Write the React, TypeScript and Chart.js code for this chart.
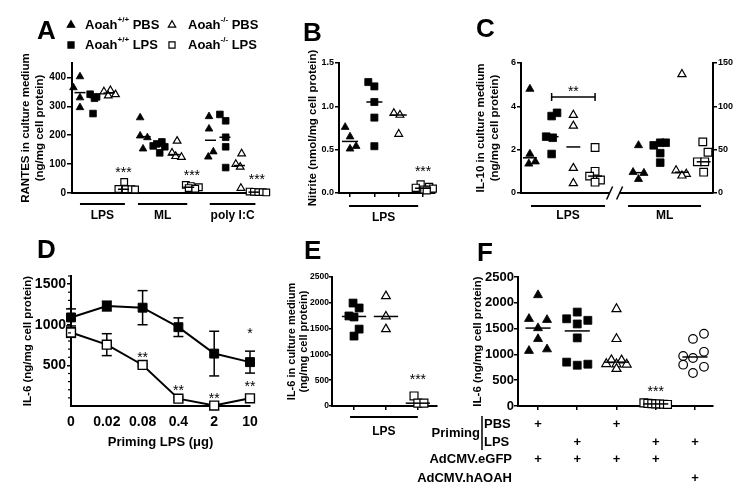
import React, { useEffect, useRef } from 'react';
import { Chart, registerables } from 'chart.js';

Chart.register(...registerables);

const FONT = '"Liberation Sans", Arial, Helvetica, sans-serif';
const INK = '#000000';
const PAPER = '#ffffff';
Chart.defaults.font.family = FONT;
Chart.defaults.color = INK;

// ======================= DATA =======================
// Panel A – RANTES in culture medium (ng/mg cell protein); one sub-array per stimulus
const A_GROUPS = ['LPS', 'ML', 'poly I:C'];
const A_WT_PBS = [[403, 365, 330, 296], [261, 198, 192, 153], [265, 222, 143, 125]];
const A_WT_LPS = [[342, 333, 328, 275], [177, 170, 163, 160, 139], [272, 250, 193, 160, 88]];
const A_KO_PBS = [[351, 355, 337, 341], [180, 139, 127, 124], [136, 100, 90, 17]];
const A_KO_LPS = [[38, 14, 13, 13, 12], [28, 24, 20, 17, 15], [5, 4, 3, 3, 2]];
const A_TICKS = [0, 100, 200, 300, 400];
const A_STAR_TEXT = ['***', '***', '***'];
const A_STAR_Y = [83, 73, 59];
const A_LEGEND = [
  { name: 'Aoah', sup: '+/+', tag: ' PBS' },
  { name: 'Aoah', sup: '-/-', tag: ' PBS' },
  { name: 'Aoah', sup: '+/+', tag: ' LPS' },
  { name: 'Aoah', sup: '-/-', tag: ' LPS' },
];

// Panel B – Nitrite (nmol/mg cell protein)
const B_GROUPS = ['LPS'];
const B_WT_PBS = [0.76, 0.65, 0.54, 0.51];
const B_WT_LPS = [1.28, 1.23, 1.05, 0.87, 0.54];
const B_KO_PBS = [0.92, 0.9, 0.68];
const B_KO_LPS = [0.1, 0.07, 0.06, 0.05, 0.04, 0.03];
const B_TICKS = [0, 0.5, 1, 1.5];
const B_STAR_TEXT = '***';
const B_STAR_Y = 0.29;

// Panel C – IL-10 (left axis: LPS, right axis: ML)
const C_GROUPS = ['LPS', 'ML'];
const C_LPS_WT_PBS = [4.8, 1.8, 1.45, 1.35];
const C_LPS_WT_LPS = [3.7, 3.55, 2.6, 2.55, 1.8];
const C_LPS_KO_PBS = [3.6, 3.1, 1.15, 0.45];
const C_LPS_KO_LPS = [2.1, 1.0, 0.78, 0.6, 0.5];
const C_ML_WT_PBS = [55, 24, 23, 16];
const C_ML_WT_LPS = [58, 58, 55, 46, 35];
const C_ML_KO_PBS = [137, 26, 22, 20];
const C_ML_KO_LPS = [59, 47, 36, 36, 24];
const C_TICKS_LEFT = [0, 2, 4, 6];
const C_TICKS_RIGHT = [0, 50, 100, 150];
const C_BRACKET_Y = 4.43;
const C_BRACKET_TEXT = '**';
const C_BRACKET_TEXT_Y = 4.85;

// Panel D – IL-6 vs priming LPS dose (mean ± SEM)
const D_PRIMING = ['0', '0.02', '0.08', '0.4', '2', '10'];
const D_WT = [1090, 1230, 1210, 970, 645, 540];
const D_WT_SEM = [105, 60, 210, 115, 275, 135];
const D_KO = [905, 755, 505, 90, 5, 95];
const D_KO_SEM = [60, 135, 15, 20, 10, 25];
const D_TICKS = [500, 1000, 1500];
const D_MINOR_TICKS = [100, 200, 300, 400, 600, 700, 800, 900, 1100, 1200, 1300, 1400, 1600];
const D_STARS = [
  { i: 5, y: 940, t: '*' },
  { i: 2, y: 640, t: '**' },
  { i: 3, y: 233, t: '**' },
  { i: 4, y: 135, t: '**' },
  { i: 5, y: 290, t: '**' },
];

// Panel E – IL-6 in culture medium
const E_GROUPS = ['LPS'];
const E_WT_LPS = [1995, 1900, 1745, 1725, 1490, 1355];
const E_KO_PBS = [2130, 1735, 1490];
const E_KO_LPS = [195, 55, 55];
const E_TICKS = [0, 500, 1000, 1500, 2000, 2500];
const E_STAR_TEXT = '***';
const E_STAR_Y = 580;

// Panel F – IL-6 after priming and adenoviral transduction
const F_PBS_EGFP_WT = [2150, 1690, 1670, 1510, 1300, 1100, 1070];
const F_LPS_EGFP_WT = [1820, 1690, 1660, 1590, 1320, 850, 790, 810];
const F_PBS_EGFP_KO = [1880, 1300, 890, 885, 815, 810, 805, 720];
const F_LPS_EGFP_KO = [60, 50, 45, 40, 40, 35, 30];
const F_LPS_AOAH_KO = [1400, 1300, 1050, 970, 930, 800, 760, 640];
const F_TICKS = [0, 500, 1000, 1500, 2000, 2500];
const F_STAR_TEXT = '***';
const F_STAR_Y = 350;
const F_PRIMING_LABEL = 'Priming';
const F_ROWS = [
  { label: 'PBS', marks: [1, 0, 1, 0, 0] },
  { label: 'LPS', marks: [0, 1, 0, 1, 1] },
  { label: 'AdCMV.eGFP', marks: [1, 1, 1, 1, 0] },
  { label: 'AdCMV.hAOAH', marks: [0, 0, 0, 0, 1] },
];

// ======================= LAYOUT (positions / styles) =======================
type Shape = 'triangle' | 'rect' | 'circle';
interface Mk { shape: Shape; filled: boolean }
const MK_WT_PBS: Mk = { shape: 'triangle', filled: true };
const MK_WT_LPS: Mk = { shape: 'rect', filled: true };
const MK_KO_PBS: Mk = { shape: 'triangle', filled: false };
const MK_KO_LPS: Mk = { shape: 'rect', filled: false };
const MK_AOAH: Mk = { shape: 'circle', filled: false };

const A_GROUP_START = [0, 4.5, 9];
const A_BAR_SPANS = [[0, 3.1], [4.0, 7.4], [8.95, 12.1]];
const A_STAR_X = [3.0, 7.72, 12.2];
const A_JIT_WT_PBS = [[0, -0.45, 0, 0], [-0.35, -0.35, 0.15, -0.15], [-0.1, -0.1, 0.2, -0.15]];
const A_JIT_WT_LPS = [[-0.3, 0.15, 0, -0.1], [0.15, -0.2, -0.45, 0.35, 0], [-0.35, 0.05, 0.05, 0.05, 0.05]];
const A_JIT_KO_PBS = [[-0.35, 0.1, -0.05, 0.45], [0.2, -0.15, 0.1, 0.5], [0.15, -0.25, 0.05, 0.1]];
const A_JIT_KO_LPS = [[0.05, -0.35, 0.15, 0.55, 0.8], [-0.2, 0.15, 0.7, 0.0, 0.45], [-0.3, 0, 0.3, 0.6, 0.85]];
const A_LEGEND_MARK = [[71, 25], [172, 25], [71, 45], [172, 45]];
const A_LEGEND_TEXT_X = [85, 188, 85, 188];

const B_JIT = [[-0.2, 0, 0.25, 0], [-0.25, 0, 0, 0, 0], [-0.2, 0.05, 0], [-0.1, 0.25, -0.3, 0.4, 0.05, 0.15]];
const B_BAR_SPANS = [[0.96, 3.8]];

const C_JIT = [
  [0, 0, 0.25, -0.05], [0.25, 0, -0.25, 0.05, 0], [0, 0, 0, 0], [0, 0, -0.25, 0.25, 0],
  [0, -0.25, 0.25, 0], [0.25, 0, -0.3, 0, 0], [0, -0.27, 0.2, 0], [-0.04, 0.2, -0.29, 0.05, 0],
];
const C_BAR_SPANS = [[0.05, 3.46], [4.52, 7.88]];
const C_BREAK_AT = 3.9;

const E_JIT = [[-0.03, 0.16, -0.16, 0, 0.16, 0], [0, 0, 0], [-0.12, 0, 0.19]];
const E_BAR_SPANS = [[0.875, 3.0]];

const F_JIT = [
  [0, -0.23, 0.23, 0, 0, 0.23, -0.23],
  [0, -0.27, 0.27, 0, 0, -0.27, 0, 0.27],
  [0, 0, -0.13, 0.13, -0.26, 0, 0.26, 0],
  [-0.3, -0.2, -0.1, 0, 0.1, 0.2, 0.3],
  [0.23, -0.05, 0.23, -0.3, -0.05, -0.3, 0.23, -0.05],
];
const F_ROW_DY = [18, 36, 53, 72];

const LETTERS = [
  { t: 'A', x: 37, y: 17 },
  { t: 'B', x: 303, y: 19 },
  { t: 'C', x: 476, y: 15 },
  { t: 'D', x: 37, y: 236 },
  { t: 'E', x: 304, y: 237 },
  { t: 'F', x: 477, y: 239 },
];

// ======================= HELPERS =======================
function median(a: number[]) {
  const s = [...a].sort((p, q) => p - q);
  const n = s.length;
  return n % 2 ? s[(n - 1) / 2] : (s[n / 2 - 1] + s[n / 2]) / 2;
}

function dots(values: number[], jit: number[], center: number, mk: Mk, r: number, yAxisID = 'y') {
  return {
    type: 'scatter', xAxisID: 'x', yAxisID, order: 2, clip: false, showLine: false,
    data: values.map((v, i) => ({ x: center + (jit[i] || 0), y: v })),
    pointStyle: mk.shape, pointRadius: r, pointHoverRadius: r,
    pointBackgroundColor: mk.filled ? INK : PAPER, pointBorderColor: INK, pointBorderWidth: mk.filled ? 0.8 : 1.2,
  };
}

function medLine(values: number[], center: number, hw: number, yAxisID = 'y') {
  const m = median(values);
  return {
    type: 'scatter', xAxisID: 'x', yAxisID, order: 1, clip: false, showLine: true,
    data: [{ x: center - hw, y: m }, { x: center + hw, y: m }],
    borderColor: INK, borderWidth: 1.5, pointRadius: 0, pointHoverRadius: 0,
  };
}

function yScale(s: any) {
  return {
    type: 'linear',
    position: s.position || 'left',
    min: s.min, max: s.max,
    afterBuildTicks: (sc: any) => { sc.ticks = s.ticks.map((v: number) => ({ value: v })); },
    afterFit: (sc: any) => { sc.width = s.width; },
    grid: { display: true, drawOnChartArea: false, drawTicks: true, tickLength: s.tickLength ?? 4, color: INK, lineWidth: 1.5 },
    border: { display: true, color: INK, width: 2 },
    ticks: {
      autoSkip: false, color: INK, padding: s.pad ?? 1,
      font: { family: FONT, size: s.size, weight: 'bold' },
      callback: (v: number) => (s.decimals ? Number(v).toFixed(s.decimals) : String(v)),
    },
    title: s.title
      ? {
          display: true, text: s.title, color: INK,
          font: { family: FONT, size: s.titleSize || 11.5, weight: 'bold', lineHeight: s.titleLH || 1.2 },
          padding: { top: s.titlePad || 0, bottom: 0 },
        }
      : { display: false },
  };
}

function xScale(s: any) {
  const tl = s.tickLength || 0;
  return {
    type: 'linear', position: 'bottom', min: s.min, max: s.max,
    afterBuildTicks: (sc: any) => { sc.ticks = s.ticks.map((v: number) => ({ value: v })); },
    afterFit: (sc: any) => { sc.height = s.height; },
    grid: { display: tl > 0, drawOnChartArea: false, drawTicks: tl > 0, tickLength: tl, color: INK, lineWidth: 1.5 },
    border: { display: true, color: INK, width: 2 },
    ticks: {
      display: !!s.labels, autoSkip: false, maxRotation: 0, minRotation: 0, color: INK,
      padding: s.labelPad || 0,
      font: { family: FONT, size: s.labelSize || 12, weight: 'bold' },
      callback: (v: number) => (s.labels ? s.labels[Math.round(v)] : ''),
    },
    title: s.title
      ? {
          display: true, text: s.title, color: INK,
          font: { family: FONT, size: s.titleSize || 13, weight: 'bold', lineHeight: 1.2 },
          padding: { top: 0, bottom: s.titlePad || 0 },
        }
      : { display: false },
  };
}

function config(datasets: any[], scales: any, padding: any, plugin: any) {
  return {
    type: 'scatter',
    data: { datasets },
    options: {
      responsive: false, maintainAspectRatio: false, animation: false, events: [],
      layout: { padding },
      plugins: { legend: { display: false }, tooltip: { enabled: false }, title: { display: false } },
      scales,
    },
    plugins: [plugin],
  };
}

function put(ctx: CanvasRenderingContext2D, s: string, x: number, y: number, size: number, align: CanvasTextAlign = 'center') {
  ctx.save();
  ctx.font = `bold ${size}px ${FONT}`;
  ctx.fillStyle = INK;
  ctx.textAlign = align;
  ctx.textBaseline = 'middle';
  ctx.fillText(s, x, y);
  ctx.restore();
}

function putStars(ctx: CanvasRenderingContext2D, s: string, x: number, y: number, size = 14) {
  ctx.save();
  ctx.font = `normal ${size}px ${FONT}`;
  ctx.fillStyle = INK;
  ctx.textAlign = 'center';
  ctx.textBaseline = 'alphabetic';
  ctx.fillText(s, x, y + size * 0.58);
  ctx.restore();
}

function seg(ctx: CanvasRenderingContext2D, x1: number, y1: number, x2: number, y2: number, w = 2) {
  ctx.save();
  ctx.beginPath();
  ctx.moveTo(x1, y1);
  ctx.lineTo(x2, y2);
  ctx.lineWidth = w;
  ctx.strokeStyle = INK;
  ctx.lineCap = 'butt';
  ctx.stroke();
  ctx.restore();
}

function marker(ctx: CanvasRenderingContext2D, mk: Mk, x: number, y: number, r: number) {
  ctx.save();
  ctx.beginPath();
  if (mk.shape === 'triangle') {
    ctx.moveTo(x, y - r);
    ctx.lineTo(x + r * 0.866, y + r / 2);
    ctx.lineTo(x - r * 0.866, y + r / 2);
    ctx.closePath();
  } else if (mk.shape === 'rect') {
    const h = r * Math.SQRT1_2;
    ctx.rect(x - h, y - h, 2 * h, 2 * h);
  } else {
    ctx.arc(x, y, r, 0, Math.PI * 2);
  }
  ctx.fillStyle = mk.filled ? INK : PAPER;
  ctx.fill();
  ctx.lineWidth = 1.2;
  ctx.strokeStyle = INK;
  ctx.stroke();
  ctx.restore();
}

function groupBars(chart: any, spans: number[][], labels: string[], barDy: number, labelDy: number, size = 12) {
  const { ctx, chartArea, scales } = chart;
  spans.forEach(([a, b], i) => {
    const p1 = scales.x.getPixelForValue(a);
    const p2 = scales.x.getPixelForValue(b);
    seg(ctx, p1, chartArea.bottom + barDy, p2, chartArea.bottom + barDy, 2);
    put(ctx, labels[i], (p1 + p2) / 2, chartArea.bottom + labelDy, size);
  });
}

// ======================= PANELS =======================
function buildA() {
  const series = [A_WT_PBS, A_WT_LPS, A_KO_PBS, A_KO_LPS];
  const jits = [A_JIT_WT_PBS, A_JIT_WT_LPS, A_JIT_KO_PBS, A_JIT_KO_LPS];
  const mks = [MK_WT_PBS, MK_WT_LPS, MK_KO_PBS, MK_KO_LPS];
  const ds: any[] = [];
  A_GROUP_START.forEach((start, g) => {
    series.forEach((s, k) => {
      const c = start + k;
      ds.push(dots(s[g], jits[k][g], c, mks[k], mks[k].shape === 'triangle' ? 4.4 : 4.7));
      ds.push(medLine(s[g], c, 0.38));
    });
  });
  const legendMks = [MK_WT_PBS, MK_KO_PBS, MK_WT_LPS, MK_KO_LPS];
  const plugin = {
    id: 'annotA',
    afterDraw(chart: any) {
      const { ctx, scales } = chart;
      groupBars(chart, A_BAR_SPANS, A_GROUPS, 11, 23, 12);
      A_STAR_TEXT.forEach((t, i) => putStars(ctx, t, scales.x.getPixelForValue(A_STAR_X[i]), scales.y.getPixelForValue(A_STAR_Y[i])));
      A_LEGEND.forEach((item, i) => {
        const [mx, my] = A_LEGEND_MARK[i];
        marker(ctx, legendMks[i], mx, my, 4.3);
        ctx.save();
        ctx.fillStyle = INK;
        ctx.textAlign = 'left';
        ctx.textBaseline = 'middle';
        let cx = A_LEGEND_TEXT_X[i];
        ctx.font = `bold 13px ${FONT}`;
        ctx.fillText(item.name, cx, my);
        cx += ctx.measureText(item.name).width;
        ctx.font = `bold 8px ${FONT}`;
        ctx.fillText(item.sup, cx, my - 5);
        cx += ctx.measureText(item.sup).width;
        ctx.font = `bold 13px ${FONT}`;
        ctx.fillText(item.tag, cx, my);
        ctx.restore();
      });
    },
  };
  return config(
    ds,
    {
      x: xScale({ min: -0.55, max: 12.9, ticks: [0], height: 39 }),
      y: yScale({
        min: 0, max: 450, ticks: A_TICKS, size: 10, width: 72, tickLength: 5,
        title: ['RANTES in culture medium', '(ng/mg cell protein)'], titlePad: 19,
      }),
    },
    { left: 0, top: 63, right: 11, bottom: 0 },
    plugin,
  );
}

function buildB() {
  const series = [B_WT_PBS, B_WT_LPS, B_KO_PBS, B_KO_LPS];
  const mks = [MK_WT_PBS, MK_WT_LPS, MK_KO_PBS, MK_KO_LPS];
  const ds: any[] = [];
  series.forEach((s, k) => {
    const c = k + 1;
    ds.push(dots(s, B_JIT[k], c, mks[k], mks[k].shape === 'triangle' ? 4.5 : 5));
    ds.push(medLine(s, c, 0.33));
  });
  const plugin = {
    id: 'annotB',
    afterDraw(chart: any) {
      groupBars(chart, B_BAR_SPANS, B_GROUPS, 13, 25, 12);
      putStars(chart.ctx, B_STAR_TEXT, chart.scales.x.getPixelForValue(4), chart.scales.y.getPixelForValue(B_STAR_Y));
    },
  };
  return config(
    ds,
    {
      x: xScale({ min: 0.547, max: 4.49, ticks: [1, 2, 3, 4], height: 39, tickLength: 4 }),
      y: yScale({
        min: 0, max: 1.5, ticks: B_TICKS, size: 9, width: 49, decimals: 1,
        title: 'Nitrite (nmol/mg cell protein)', titlePad: 16,
      }),
    },
    { left: 0, top: 63, right: 10, bottom: 0 },
    plugin,
  );
}

function buildC() {
  const series = [C_LPS_WT_PBS, C_LPS_WT_LPS, C_LPS_KO_PBS, C_LPS_KO_LPS, C_ML_WT_PBS, C_ML_WT_LPS, C_ML_KO_PBS, C_ML_KO_LPS];
  const mks = [MK_WT_PBS, MK_WT_LPS, MK_KO_PBS, MK_KO_LPS];
  const ds: any[] = [];
  series.forEach((s, k) => {
    const right = k >= 4;
    const c = right ? k + 1 : k;
    const mk = mks[k % 4];
    const axis = right ? 'y2' : 'y';
    ds.push(dots(s, C_JIT[k], c, mk, mk.shape === 'triangle' ? 4.7 : 5.4, axis));
    ds.push(medLine(s, c, 0.32, axis));
  });
  const plugin = {
    id: 'annotC',
    afterDraw(chart: any) {
      const { ctx, chartArea, scales } = chart;
      const b = chartArea.bottom;
      const p = scales.x.getPixelForValue(C_BREAK_AT);
      ctx.save();
      ctx.fillStyle = PAPER;
      ctx.fillRect(p - 5, b - 3, 10, 6);
      ctx.restore();
      seg(ctx, p - 8, b + 6.5, p - 2, b - 6.5, 1.5);
      seg(ctx, p + 2, b + 6.5, p + 8, b - 6.5, 1.5);
      groupBars(chart, C_BAR_SPANS, C_GROUPS, 13, 23, 12);
      const x1 = scales.x.getPixelForValue(1);
      const x2 = scales.x.getPixelForValue(3);
      const yb = scales.y.getPixelForValue(C_BRACKET_Y);
      seg(ctx, x1, yb, x2, yb, 1.5);
      seg(ctx, x1, yb - 4, x1, yb + 4, 1.5);
      seg(ctx, x2, yb - 4, x2, yb + 4, 1.5);
      putStars(ctx, C_BRACKET_TEXT, scales.x.getPixelForValue(2), scales.y.getPixelForValue(C_BRACKET_TEXT_Y));
    },
  };
  return config(
    ds,
    {
      x: xScale({ min: -0.41, max: 8.43, ticks: [0], height: 39 }),
      y: yScale({
        min: 0, max: 6, ticks: C_TICKS_LEFT, size: 9, width: 51,
        title: ['IL-10 in culture medium', '(ng/mg cell protein)'], titlePad: 4,
      }),
      y2: yScale({ position: 'right', min: 0, max: 150, ticks: C_TICKS_RIGHT, size: 9, width: 37 }),
    },
    { left: 0, top: 63, right: 0, bottom: 0 },
    plugin,
  );
}

function buildD() {
  const ds: any[] = [
    {
      type: 'scatter', showLine: true, clip: false, order: 1,
      data: D_KO.map((v, i) => ({ x: i, y: v })),
      borderColor: INK, borderWidth: 2,
      pointStyle: 'rect', pointRadius: 6.3, pointHoverRadius: 6.3,
      pointBackgroundColor: PAPER, pointBorderColor: INK, pointBorderWidth: 1.4,
    },
    {
      type: 'scatter', showLine: true, clip: false, order: 2,
      data: D_WT.map((v, i) => ({ x: i, y: v })),
      borderColor: INK, borderWidth: 2,
      pointStyle: 'rect', pointRadius: 6.3, pointHoverRadius: 6.3,
      pointBackgroundColor: INK, pointBorderColor: INK, pointBorderWidth: 1,
    },
  ];
  const errSets = [
    { v: D_WT, e: D_WT_SEM },
    { v: D_KO, e: D_KO_SEM },
  ];
  const plugin = {
    id: 'annotD',
    beforeDatasetsDraw(chart: any) {
      const { ctx, scales } = chart;
      errSets.forEach(({ v, e }) => {
        v.forEach((val, i) => {
          const x = scales.x.getPixelForValue(i);
          const yt = scales.y.getPixelForValue(val + e[i]);
          const yb = scales.y.getPixelForValue(Math.max(val - e[i], 0));
          seg(ctx, x, yt, x, yb, 1.5);
          seg(ctx, x - 5, yt, x + 5, yt, 1.5);
          seg(ctx, x - 5, yb, x + 5, yb, 1.5);
        });
      });
    },
    afterDraw(chart: any) {
      const { ctx, scales, chartArea } = chart;
      D_MINOR_TICKS.forEach((v) => {
        const y = scales.y.getPixelForValue(v);
        seg(ctx, chartArea.left - 3, y, chartArea.left, y, 1.2);
      });
      D_STARS.forEach((s) => putStars(ctx, s.t, scales.x.getPixelForValue(s.i), scales.y.getPixelForValue(s.y)));
    },
  };
  return config(
    ds,
    {
      x: xScale({
        min: 0, max: 5, ticks: [0, 1, 2, 3, 4, 5], height: 49, labels: D_PRIMING, labelSize: 14, labelPad: 8,
        title: 'Priming LPS (\u03bcg)', titleSize: 13, titlePad: 5,
      }),
      y: yScale({
        min: 0, max: 1600, ticks: D_TICKS, size: 14, width: 71, tickLength: 4,
        title: 'IL-6 (ng/mg cell protein)', titlePad: 21,
      }),
    },
    { left: 0, top: 26, right: 25, bottom: 0 },
    plugin,
  );
}

function buildE() {
  const series = [E_WT_LPS, E_KO_PBS, E_KO_LPS];
  const mks = [MK_WT_LPS, MK_KO_PBS, MK_KO_LPS];
  const ds: any[] = [];
  series.forEach((s, k) => {
    const c = k + 1;
    ds.push(dots(s, E_JIT[k], c, mks[k], mks[k].shape === 'triangle' ? 5 : 5.6));
    ds.push(medLine(s, c, 0.38));
  });
  const plugin = {
    id: 'annotE',
    afterDraw(chart: any) {
      groupBars(chart, E_BAR_SPANS, E_GROUPS, 11, 26, 12);
      putStars(chart.ctx, E_STAR_TEXT, chart.scales.x.getPixelForValue(3), chart.scales.y.getPixelForValue(E_STAR_Y));
    },
  };
  return config(
    ds,
    {
      x: xScale({ min: 0.31, max: 3.6, ticks: [1, 2, 3], height: 39, tickLength: 4 }),
      y: yScale({
        min: 0, max: 2500, ticks: E_TICKS, size: 8.5, width: 52, tickLength: 3, pad: 0,
        title: ['IL-6 in culture medium', '(ng/mg cell protein)'], titleSize: 11, titleLH: 1.1, titlePad: 6,
      }),
    },
    { left: 0, top: 27, right: 8, bottom: 0 },
    plugin,
  );
}

function buildF() {
  const series = [F_PBS_EGFP_WT, F_LPS_EGFP_WT, F_PBS_EGFP_KO, F_LPS_EGFP_KO, F_LPS_AOAH_KO];
  const mks = [MK_WT_PBS, MK_WT_LPS, MK_KO_PBS, MK_KO_LPS, MK_AOAH];
  const radius: any = { triangle: 5.2, rect: 5.6, circle: 4.3 };
  const ds: any[] = [];
  series.forEach((s, k) => {
    const c = k + 1;
    ds.push(dots(s, F_JIT[k], c, mks[k], radius[mks[k].shape]));
    ds.push(medLine(s, c, 0.32));
  });
  const plugin = {
    id: 'annotF',
    afterDraw(chart: any) {
      const { ctx, scales, chartArea } = chart;
      const b = chartArea.bottom;
      const left = chartArea.left;
      putStars(ctx, F_STAR_TEXT, scales.x.getPixelForValue(4), scales.y.getPixelForValue(F_STAR_Y));
      F_ROWS.forEach((row, r) => {
        const y = b + F_ROW_DY[r];
        if (r < 2) put(ctx, row.label, left - 34, y, 13, 'left');
        else put(ctx, row.label, left - 6, y, 13, 'right');
        row.marks.forEach((m, i) => {
          if (m) put(ctx, '+', scales.x.getPixelForValue(i + 1), y, 13);
        });
      });
      put(ctx, F_PRIMING_LABEL, left - 38, b + (F_ROW_DY[0] + F_ROW_DY[1]) / 2, 13, 'right');
      seg(ctx, left - 36, b + F_ROW_DY[0] - 8, left - 36, b + F_ROW_DY[1] + 8, 1.5);
    },
  };
  return config(
    ds,
    {
      x: xScale({ min: 0.49, max: 5.46, ticks: [1, 2, 3, 4, 5], height: 89, tickLength: 4 }),
      y: yScale({
        min: 0, max: 2500, ticks: F_TICKS, size: 13, width: 48, tickLength: 4, pad: 0,
        title: 'IL-6 (ng/mg cell protein)', titlePad: 1,
      }),
    },
    { left: 90, top: 27, right: 37, bottom: 0 },
    plugin,
  );
}

const PANELS = [
  { id: 'A', box: { x: 0, y: 0, w: 278, h: 232 }, build: buildA },
  { id: 'B', box: { x: 290, y: 0, w: 155, h: 232 }, build: buildB },
  { id: 'C', box: { x: 470, y: 0, w: 280, h: 232 }, build: buildC },
  { id: 'D', box: { x: 0, y: 250, w: 275, h: 205 }, build: buildD },
  { id: 'E', box: { x: 280, y: 250, w: 165, h: 195 }, build: buildE },
  { id: 'F', box: { x: 380, y: 250, w: 370, h: 245 }, build: buildF },
];

function ChartCanvas({ box, build }: { box: { x: number; y: number; w: number; h: number }; build: () => any }) {
  const ref = useRef<HTMLCanvasElement | null>(null);
  useEffect(() => {
    if (!ref.current) return;
    const chart = new Chart(ref.current, build());
    return () => chart.destroy();
  }, []);
  return (
    <canvas
      ref={ref}
      width={box.w}
      height={box.h}
      style={{ position: 'absolute', left: box.x, top: box.y, width: box.w, height: box.h }}
    />
  );
}

export default function App() {
  return (
    <div style={{ position: 'fixed', left: 0, top: 0, width: 750, height: 495, background: PAPER, overflow: 'hidden' }}>
      {PANELS.map((p) => (
        <ChartCanvas key={p.id} box={p.box} build={p.build} />
      ))}
      {LETTERS.map((l) => (
        <div
          key={l.t}
          style={{
            position: 'absolute', left: l.x, top: l.y, fontFamily: FONT, fontWeight: 'bold',
            fontSize: 26, lineHeight: '26px', color: INK,
          }}
        >
          {l.t}
        </div>
      ))}
    </div>
  );
}
